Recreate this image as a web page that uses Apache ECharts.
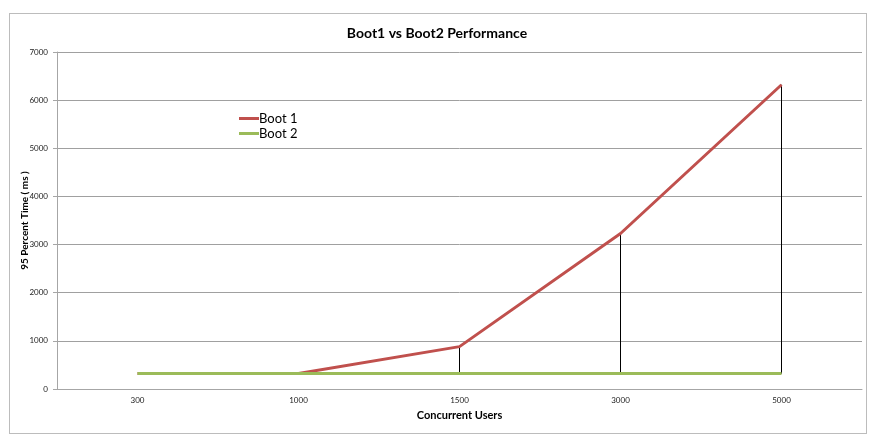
<!DOCTYPE html>
<html>
<head>
<meta charset="utf-8" />
<title>Boot1 vs Boot2 Performance</title>
<style>
	html, body { margin: 0; padding: 0; background: #fff; }
	#frame { position: absolute; left: 9px; top: 13px; width: 856px; height: 419px; border: 1px solid #bcbcbc; }
	#main { position: absolute; left: 0; top: 0; width: 876px; height: 443px; }
</style>
</head>
<body>
<div id="frame"></div>
<div id="main"></div>
<script src="https://cdn.jsdelivr.net/npm/echarts@6/dist/echarts.min.js"></script>
<script>
	// data
	var users = ['300', '1000', '1500', '3000', '5000'];
	var boot1 = [320, 320, 880, 3230, 6320];
	var boot2 = [320, 320, 320, 320, 320];
	var yTicks = { min: 0, max: 7000, interval: 1000 };

	var chart = echarts.init(document.getElementById('main'));
	var font = 'Lato, "Liberation Sans", sans-serif';

	// high-low lines between the two series
	var hiLo = users.map(function (u, i) { return [i, boot1[i], boot2[i]]; });

	var option = {
		animation: false,
		textStyle: { fontFamily: font },
		title: {
			text: 'Boot1 vs Boot2 Performance',
			left: 432, top: 21, textAlign: 'center',
			textStyle: { fontSize: 14, fontWeight: 'bold', color: '#000', fontFamily: font }
		},
		legend: {
			orient: 'vertical',
			left: 234, top: 107,
			itemWidth: 20, itemHeight: 3, itemGap: 2,
			icon: 'rect',
			data: ['Boot 1', 'Boot 2'],
			textStyle: { fontSize: 13, color: '#000', padding: [0, 0, 0, -5] }
		},
		grid: { left: 57, right: 14, top: 52, bottom: 54 },
		xAxis: {
			type: 'category',
			data: users,
			boundaryGap: true,
			name: 'Concurrent Users',
			nameLocation: 'middle',
			nameGap: 21,
			nameMoveOverlap: false,
			nameTextStyle: { fontSize: 11, fontWeight: 'bold', color: '#000' },
			axisLine: { lineStyle: { color: '#a6a6a6' } },
			axisTick: { show: false },
			axisLabel: { fontSize: 8, color: '#222', margin: 7 }
		},
		yAxis: {
			type: 'value',
			min: yTicks.min, max: yTicks.max, interval: yTicks.interval,
			name: '95 Percent Time ( ms )',
			nameLocation: 'middle',
			nameGap: 27,
			nameMoveOverlap: false,
			nameTextStyle: { fontSize: 10, fontWeight: 'bold', color: '#000' },
			axisLine: { show: true, lineStyle: { color: '#a6a6a6' } },
			axisTick: { show: true, length: 4, lineStyle: { color: '#a6a6a6' } },
			axisLabel: { fontSize: 8, color: '#222', margin: 9, formatter: function (v) { return String(v); } },
			splitLine: { lineStyle: { color: '#a0a0a0', width: 1 } }
		},
		series: [
			{
				type: 'custom',
				silent: true,
				z: 1,
				data: hiLo,
				renderItem: function (params, api) {
					var a = api.coord([api.value(0), api.value(1)]);
					var b = api.coord([api.value(0), api.value(2)]);
					return {
						type: 'line',
						shape: { x1: a[0], y1: a[1], x2: b[0], y2: b[1] },
						style: { stroke: '#000', lineWidth: 1 }
					};
				}
			},
			{
				name: 'Boot 1',
				type: 'line',
				data: boot1,
				z: 3,
				symbol: 'none',
				itemStyle: { color: '#c0504d' },
				lineStyle: { color: '#c0504d', width: 3 }
			},
			{
				name: 'Boot 2',
				type: 'line',
				data: boot2,
				z: 4,
				symbol: 'none',
				itemStyle: { color: '#9bbb59' },
				lineStyle: { color: '#9bbb59', width: 3 }
			}
		]
	};
	chart.setOption(option);
</script>
</body>
</html>
